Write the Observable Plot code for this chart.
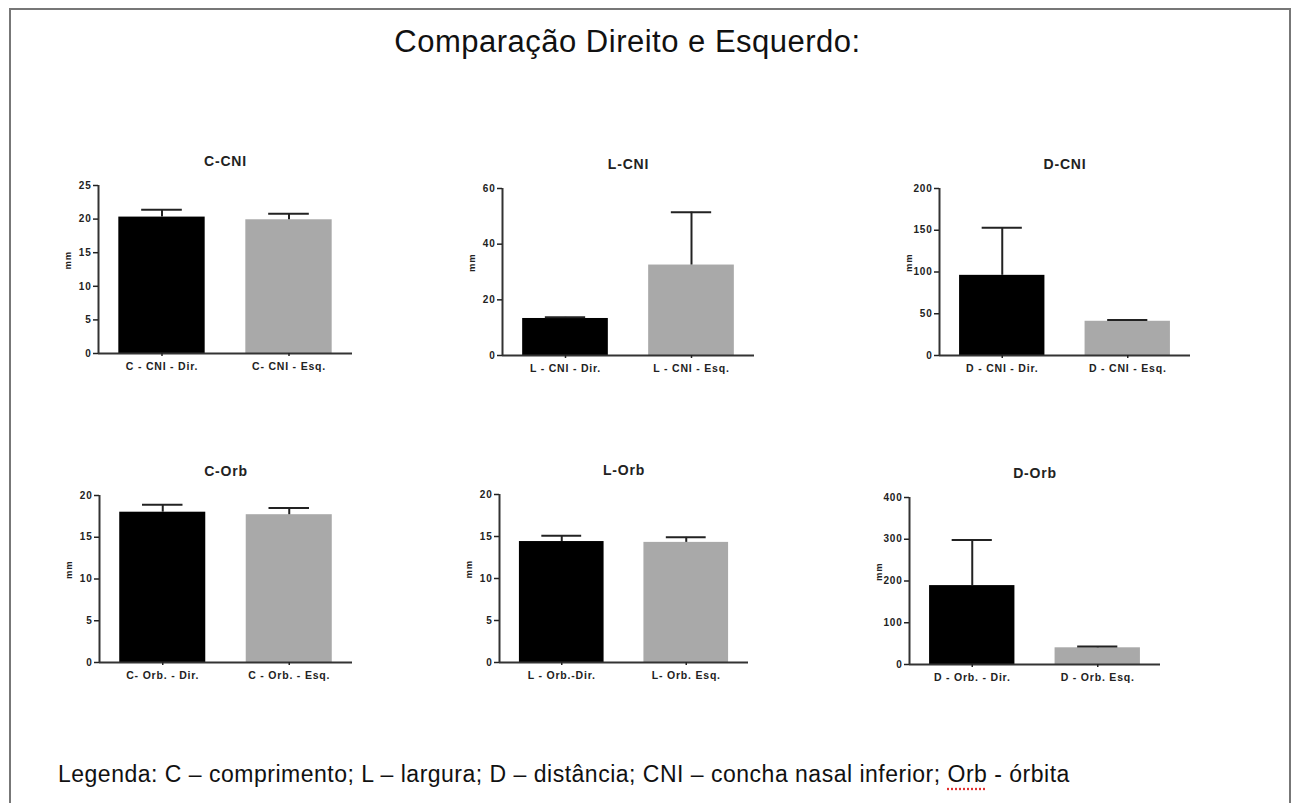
<!DOCTYPE html>
<html>
<head>
<meta charset="utf-8">
<script src="https://cdn.jsdelivr.net/npm/d3@7"></script>
<script src="https://cdn.jsdelivr.net/npm/@observablehq/plot@0.6"></script>
<style>
  html, body { margin: 0; padding: 0; background: #fff; }
  #page { position: relative; width: 1293px; height: 803px; overflow: hidden; background: #fff; }
  #frame { position: absolute; left: 9px; top: 8px; width: 1278px; height: 820px;
           border: 2px solid #777; border-bottom: none; }
  #title { position: absolute; left: 0; width: 1255px; top: 24px; text-align: center;
           font-family: "Liberation Sans", Arial, sans-serif; font-size: 31px; letter-spacing: 0.5px; color: #111; }
  #legend { position: absolute; left: 58px; top: 761px;
            font-family: "Liberation Sans", Arial, sans-serif; font-size: 23px; letter-spacing: 0.5px; color: #111; white-space: nowrap; }
  #legend .sp { text-decoration: underline dotted #e03030; text-underline-offset: 6px; }
  .panel { position: absolute; }
  .panel svg text { letter-spacing: 0.8px; }
</style>
</head>
<body>
<div id="page">
  <div id="frame"></div>
  <div id="title">Comparação Direito e Esquerdo:</div>
  <div id="legend">Legenda: C – comprimento; L – largura; D – distância; CNI – concha nasal inferior; <span class="sp">Orb</span> - órbita</div>
</div>
<script>
// ---- Data ----
const panelTitles = ["C-CNI", "L-CNI", "D-CNI", "C-Orb", "L-Orb", "D-Orb"];
const dirLabels = ["C - CNI - Dir.", "L - CNI - Dir.", "D - CNI - Dir.", "C- Orb. - Dir.", "L - Orb.-Dir.", "D - Orb. - Dir."];
const esqLabels = ["C- CNI - Esq.", "L - CNI - Esq.", "D - CNI - Esq.", "C - Orb. - Esq.", "L- Orb. Esq.", "D - Orb. Esq."];
const dirMeans = [20.3, 13.3, 96, 18.0, 14.4, 189];
const dirUpper = [21.4, 13.7, 153, 18.9, 15.1, 298];
const esqMeans = [19.9, 32.5, 41, 17.7, 14.3, 40];
const esqUpper = [20.8, 51.5, 42.5, 18.5, 14.9, 43];
const yMaxima = [25, 60, 200, 20, 20, 400];
const yTickValues = [
  [0, 5, 10, 15, 20, 25],
  [0, 20, 40, 60],
  [0, 50, 100, 150, 200],
  [0, 5, 10, 15, 20],
  [0, 5, 10, 15, 20],
  [0, 100, 200, 300, 400]
];
const yLabel = "mm";

// ---- Layout (pixel frame of each panel's axes) ----
const panelLayout = [
  {left: 98,  top: 185, bottom: 353, right: 352},
  {left: 502, top: 188, bottom: 355, right: 754},
  {left: 939, top: 188, bottom: 355, right: 1190},
  {left: 99,  top: 495, bottom: 662, right: 352},
  {left: 499, top: 494, bottom: 662, right: 748},
  {left: 909, top: 497, bottom: 664, right: 1160}
];
const ML = 48, MT = 40, MB = 30, MR = 6;
const BAR_HALF = 0.34, CAP_HALF = 0.16;
const fills = ["#000000", "#a9a9a9"];

const page = document.getElementById("page");

panelTitles.forEach((title, p) => {
  const rows = [
    {i: 0, label: dirLabels[p], mean: dirMeans[p], upper: dirUpper[p], fill: fills[0]},
    {i: 1, label: esqLabels[p], mean: esqMeans[p], upper: esqUpper[p], fill: fills[1]}
  ];
  const L = panelLayout[p];
  const chart = Plot.plot({
    width: ML + (L.right - L.left) + MR,
    height: MT + (L.bottom - L.top) + MB,
    marginLeft: ML, marginRight: MR, marginTop: MT, marginBottom: MB,
    x: {domain: [-0.5, 1.5]},
    y: {domain: [0, yMaxima[p]]},
    color: {type: "identity"},
    style: {fontFamily: "Liberation Sans, Arial, sans-serif", fontSize: "10px", fontWeight: "bold", color: "#222", background: "transparent", overflow: "visible"},
    marks: [
      Plot.rectY(rows, {x1: d => d.i - BAR_HALF, x2: d => d.i + BAR_HALF, y1: 0, y2: "mean", fill: "fill"}),
      Plot.ruleX(rows, {x: "i", y1: "mean", y2: "upper", stroke: "#222", strokeWidth: 2}),
      Plot.ruleY(rows, {y: "upper", x1: d => d.i - CAP_HALF, x2: d => d.i + CAP_HALF, stroke: "#222", strokeWidth: 2}),
      Plot.ruleY([0], {stroke: "#333", strokeWidth: 2}),
      Plot.ruleX([-0.5], {stroke: "#333", strokeWidth: 2}),
      Plot.axisY({ticks: yTickValues[p], tickSize: 5, tickPadding: 2, strokeWidth: 1.5, label: null, fontSize: 10}),
      Plot.axisX({ticks: [0, 1], tickFormat: i => rows[i].label, tickSize: 3, tickPadding: 6, strokeWidth: 1.5, label: null, fontSize: 10.5}),
      Plot.text([yLabel], {frameAnchor: "left", dx: -31, rotate: -90, fontSize: 9.5, fontWeight: "bold"}),
      Plot.text([title], {frameAnchor: "top", dy: -29, fontSize: 14, fontWeight: "bold"})
    ]
  });
  const div = document.createElement("div");
  div.className = "panel";
  div.style.left = (L.left - ML) + "px";
  div.style.top = (L.top - MT) + "px";
  div.appendChild(chart);
  page.appendChild(div);
});
</script>
</body>
</html>
